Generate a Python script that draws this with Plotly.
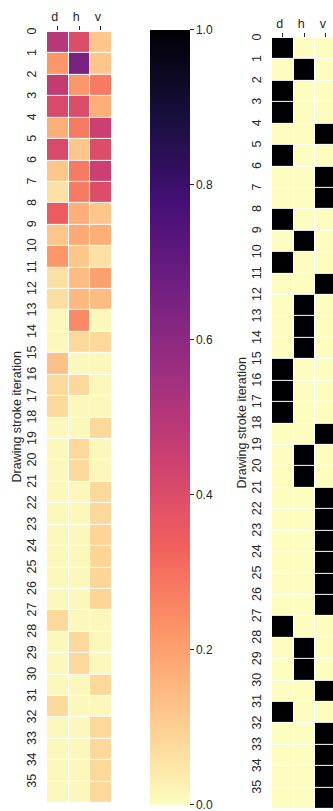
import plotly.graph_objects as go

W, H = 333, 811

cats = ['d', 'h', 'v']
rows = list(range(36))

# left heatmap values (magma_r, 0..1)
d_vals = [0.50, 0.22, 0.47, 0.41, 0.17, 0.41, 0.12, 0.06, 0.35, 0.12, 0.22, 0.06,
          0.07, 0.01, 0.01, 0.13, 0.08, 0.08, 0.01, 0.01, 0.01, 0.01, 0.01, 0.01,
          0.01, 0.01, 0.01, 0.08, 0.01, 0.01, 0.01, 0.08, 0.01, 0.01, 0.01, 0.01]
h_vals = [0.40, 0.65, 0.22, 0.40, 0.28, 0.12, 0.28, 0.28, 0.17, 0.18, 0.12, 0.14,
          0.15, 0.25, 0.08, 0.01, 0.08, 0.01, 0.01, 0.08, 0.08, 0.01, 0.01, 0.01,
          0.01, 0.01, 0.01, 0.01, 0.08, 0.08, 0.01, 0.01, 0.01, 0.01, 0.01, 0.01]
v_vals = [0.12, 0.12, 0.28, 0.17, 0.45, 0.40, 0.45, 0.40, 0.12, 0.17, 0.06, 0.20,
          0.14, 0.01, 0.08, 0.01, 0.01, 0.01, 0.08, 0.01, 0.01, 0.08, 0.08, 0.09,
          0.09, 0.09, 0.09, 0.01, 0.01, 0.01, 0.08, 0.01, 0.08, 0.08, 0.08, 0.08]

# right heatmap: selected stroke type per iteration
choice = ['d', 'h', 'd', 'd', 'v', 'd', 'v', 'v', 'd', 'h', 'd', 'v',
          'h', 'h', 'h', 'd', 'd', 'd', 'v', 'h', 'h', 'v', 'v', 'v',
          'v', 'v', 'v', 'd', 'h', 'h', 'v', 'd', 'v', 'v', 'v', 'v']

cbar_ticks = [0.0, 0.2, 0.4, 0.6, 0.8, 1.0]
y_title = 'Drawing stroke iteration'

z_left = [[d_vals[i], h_vals[i], v_vals[i]] for i in rows]
z_right = [[1 if choice[i] == c else 0 for c in cats] for i in rows]
xs = list(range(len(cats)))

FONT = "Liberation Sans, Arial, sans-serif"
TXT = "#262626"

fig = go.Figure()
fig.add_trace(go.Heatmap(
    x=xs, y=rows, z=z_left, colorscale='Magma', reversescale=True,
    zmin=0, zmax=1, xgap=1, ygap=1, xaxis='x', yaxis='y',
    hoverinfo='skip',
    colorbar=dict(
        x=150 / W, xanchor='left', xref='paper',
        y=1 - 415.5 / H, yanchor='middle', yref='paper',
        len=775, lenmode='pixels', thickness=40, thicknessmode='pixels',
        outlinewidth=0, xpad=0, ypad=0,
        ticks='outside', ticklen=4, tickwidth=1, tickcolor=TXT,
        tickvals=cbar_ticks,
        ticktext=[f"{t:.1f}" for t in cbar_ticks],
        ticklabeloverflow='allow',
        tickfont=dict(size=12, color=TXT, family=FONT),
    ),
))
fig.add_trace(go.Heatmap(
    x=xs, y=rows, z=z_right, colorscale=[[0, '#fcfdbf'], [1, '#000004']],
    zmin=0, zmax=1, xgap=1, ygap=1, xaxis='x2', yaxis='y2',
    showscale=False, hoverinfo='skip',
))

col_px = 21.5
xcommon = dict(
    side='top', tickvals=xs, ticktext=cats, ticks='outside', ticklen=4,
    tickwidth=1, tickcolor=TXT, showgrid=False, zeroline=False, showline=False,
    tickfont=dict(size=12.5, color=TXT, family=FONT), ticklabelshift=-3,
    fixedrange=True,
)
ycommon = dict(
    tickvals=[i - 0.45 for i in rows], ticktext=[str(i) for i in rows],
    tickangle=-90, ticks='', showgrid=False, zeroline=False, showline=False,
    tickfont=dict(size=12.5, color=TXT, family=FONT), ticklabelstandoff=8,
    range=[35.5, -0.5], fixedrange=True,
)

right_x0 = 272
fig.update_layout(
    width=W, height=H, margin=dict(l=0, r=0, t=0, b=0),
    paper_bgcolor='white', plot_bgcolor='white',
    font=dict(family=FONT, color=TXT),
    xaxis=dict(domain=[47 / W, 111.5 / W], range=[-0.5, 2.5], anchor='free',
               position=1 - 26 / H, **xcommon),
    yaxis=dict(domain=[1 - 803 / H, 1 - 28 / H], anchor='x', **ycommon),
    xaxis2=dict(domain=[right_x0 / W, 1],
                range=[-0.5, -0.5 + (W - right_x0) / col_px], anchor='free',
                position=1 - 33 / H, **xcommon),
    yaxis2=dict(domain=[1 - 809 / H, 1 - 34 / H], anchor='x2', **ycommon),
)

for xc, yc in [(17, 415.5), (242, 421.5)]:
    fig.add_annotation(
        text=y_title, textangle=-90, x=xc / W, y=1 - yc / H,
        xref='paper', yref='paper', xanchor='center', yanchor='middle',
        showarrow=False, font=dict(size=12.5, color=TXT, family=FONT),
    )

fig.write_html("out.html")
